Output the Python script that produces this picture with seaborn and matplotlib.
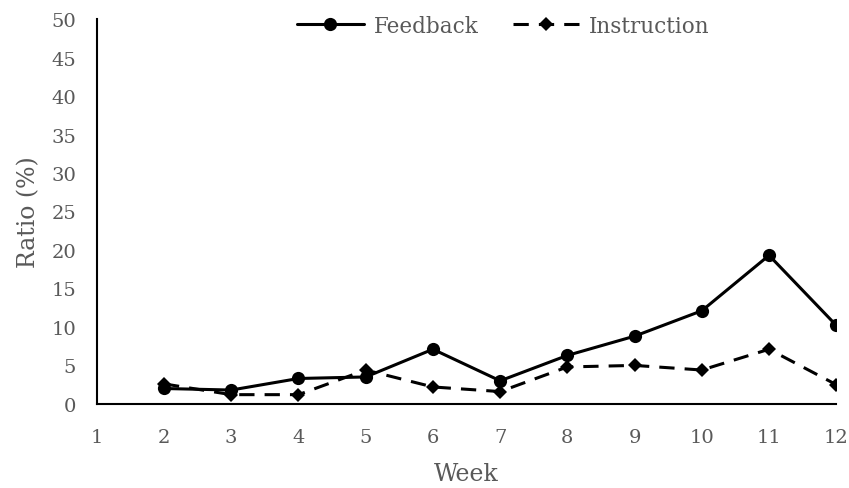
import matplotlib
matplotlib.use("Agg")
import matplotlib.pyplot as plt
import seaborn as sns
import pandas as pd

weeks = [2, 3, 4, 5, 6, 7, 8, 9, 10, 11, 12]
feedback = [2.0, 1.8, 3.3, 3.5, 7.1, 3.0, 6.3, 8.8, 12.1, 19.3, 10.2]
instruction = [2.6, 1.2, 1.2, 4.4, 2.2, 1.6, 4.8, 5.0, 4.4, 7.1, 2.5]
series_names = ["Feedback", "Instruction"]
x_ticks = list(range(1, 13))
y_ticks = list(range(0, 51, 5))

df = pd.DataFrame({
    "Week": weeks * 2,
    "Ratio": feedback + instruction,
    "Series": [series_names[0]] * len(weeks) + [series_names[1]] * len(weeks),
})

sns.set_theme(style="white")
plt.rcParams["font.family"] = ["DejaVu Serif"]
text_color = "#595959"

fig = plt.figure(figsize=(8.49, 4.89), dpi=100)
ax = fig.add_axes([0.114, 0.172, 0.871, 0.787])

sns.lineplot(
    data=df, x="Week", y="Ratio", hue="Series", style="Series",
    palette={"Feedback": "black", "Instruction": "black"},
    markers={"Feedback": "o", "Instruction": "D"},
    dashes={"Feedback": "", "Instruction": (5, 3.3)},
    linewidth=2.2, markersize=9.5, markeredgewidth=0,
    ax=ax, legend=True,
)
for line in ax.get_lines():
    if line.get_marker() == "D":
        line.set_markersize(7.5)

ax.set_xlim(1, 12)
ax.set_ylim(0, 50)
ax.set_xticks(x_ticks)
ax.set_yticks(y_ticks)
ax.tick_params(axis="both", colors=text_color, labelsize=14, length=0)
ax.tick_params(axis="x", pad=17)
ax.tick_params(axis="y", pad=15)
ax.set_xlabel("Week", color=text_color, fontsize=17, labelpad=12)
ax.set_ylabel("Ratio (%)", color=text_color, fontsize=17, labelpad=8)
for s in ["top", "right"]:
    ax.spines[s].set_visible(False)
for s in ["left", "bottom"]:
    ax.spines[s].set_color("black")
    ax.spines[s].set_linewidth(1.5)

handles, labels = ax.get_legend_handles_labels()
for h in handles:
    if h.get_marker() == "D":
        h.set_markersize(7.5)
leg = ax.legend(handles, labels, loc="center", bbox_to_anchor=(0.55, 0.982),
                ncol=2, frameon=False, fontsize=15.5, handlelength=3.1,
                columnspacing=1.6, handletextpad=0.45)
for t in leg.get_texts():
    t.set_color(text_color)

fig.savefig("out.png", dpi=100)
